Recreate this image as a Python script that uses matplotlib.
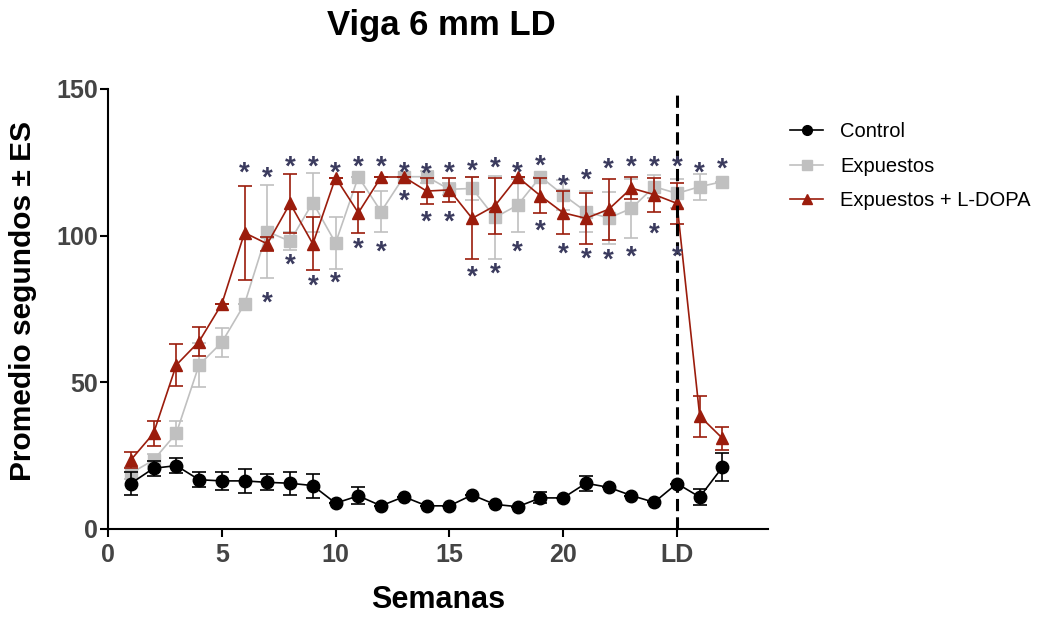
import matplotlib
matplotlib.use("Agg")
import matplotlib.pyplot as plt
from matplotlib.lines import Line2D

weeks = list(range(1, 28))

control = [15.5, 20.7, 21.6, 16.8, 16.4, 16.4, 15.9, 15.6, 14.8, 8.8, 11.3, 7.9, 11.0, 7.9,
           7.9, 11.6, 8.4, 7.6, 10.6, 10.6, 15.6, 14.2, 11.4, 9.1, 15.5, 10.9, 21.1]
control_err = [3.8, 2.5, 2.6, 2.5, 3.0, 4.0, 2.7, 3.9, 4.1, 0, 2.9, 0, 0, 0,
               0, 0, 0, 0, 1.9, 0, 2.6, 0, 0, 0, 0, 2.6, 4.9]

expuestos = [19.0, 23.5, 32.6, 55.9, 63.6, 76.7, 101.4, 98.1, 111.3, 97.5, 120.1, 108.2, 120.1, 120.1,
             115.8, 116.1, 106.2, 110.4, 120.1, 113.9, 108.2, 106.0, 109.3, 116.7, 114.4, 116.7, 118.4]
expuestos_err = [2.0, 2.0, 4.3, 7.4, 5.0, 0, 16.0, 3.0, 10.0, 9.0, 0, 7.0, 0, 2.0,
                 2.0, 4.0, 14.0, 9.0, 0, 5.0, 7.0, 9.0, 10.0, 4.0, 5.0, 4.4, 0]

ldopa = [23.5, 32.6, 55.9, 63.9, 76.7, 101.0, 97.2, 111.0, 97.2, 119.8, 107.8, 120.0, 120.0, 115.2,
         115.6, 105.9, 110.2, 120.0, 113.6, 107.8, 105.9, 109.0, 116.2, 114.0, 111.0, 38.5, 30.9]
ldopa_err = [2.7, 4.3, 7.0, 5.0, 0, 16.0, 2.5, 10.0, 9.0, 0, 7.0, 0, 0, 4.5,
             4.0, 14.0, 9.5, 0, 6.0, 7.3, 8.7, 10.4, 3.8, 5.8, 7.0, 7.0, 4.0]

ast_top_x = list(range(6, 28))
ast_top_y = [123.4, 121.8, 125.6, 125.6, 123.4, 125.6, 125.6, 123.4, 123.1, 123.4, 124.2,
             125.2, 123.4, 125.8, 119.0, 121.2, 124.9, 125.6, 125.6, 125.6, 123.4, 124.9]
ast_bot_x = list(range(7, 26))
ast_bot_y = [79.2, 92.3, 84.9, 86.0, 97.5, 96.7, 114.0, 106.7, 106.7, 88.1, 89.2, 96.7,
             103.6, 96.0, 94.2, 93.8, 94.9, 102.8, 94.9]

xtick_pos = [0, 5, 10, 15, 20, 25]
xtick_labels = ["0", "5", "10", "15", "20", "LD"]
ytick_pos = [0, 50, 100, 150]
ld_week = 25

RED = "#9b1c0c"
GREY = "#c0c0c0"
BLACK = "#000000"
AST = "#3b3b5e"
TICKC = "#444444"

plt.rcParams['font.family'] = ['Liberation Sans', 'DejaVu Sans']

fig = plt.figure(figsize=(10.42, 6.17), dpi=100)
ax = fig.add_axes([108/1042, 1-529/617, 660/1042, 440/617])

common = dict(capsize=5, elinewidth=1.2, capthick=1.2, linewidth=1.2)
ax.errorbar(weeks, expuestos, yerr=expuestos_err, color=GREY, marker='s', markersize=8.5,
            zorder=2, **common)
ax.errorbar(weeks, ldopa, yerr=ldopa_err, color=RED, marker='^', markersize=9,
            zorder=3, **common)
ax.errorbar(weeks, control, yerr=control_err, color=BLACK, marker='o', markersize=9,
            zorder=4, **common)

ax.axvline(ld_week, color='black', linestyle=(0, (4, 2)), linewidth=2.2, zorder=5)

fs_ast = 20
for xs, ys in ((ast_top_x, ast_top_y), (ast_bot_x, ast_bot_y)):
    for xv, yv in zip(xs, ys):
        ax.annotate('*', xy=(xv, yv), xytext=(0, -0.5*fs_ast), textcoords='offset points',
                    ha='center', va='baseline', fontsize=fs_ast, fontweight='bold', color=AST,
                    zorder=6)

ax.set_xlim(0, 29)
ax.set_ylim(0, 150)
ax.set_xticks(xtick_pos)
ax.set_xticklabels(xtick_labels)
ax.set_yticks(ytick_pos)
for s in ('top', 'right'):
    ax.spines[s].set_visible(False)
for s in ('left', 'bottom'):
    ax.spines[s].set_linewidth(1.5)
ax.tick_params(axis='both', direction='out', length=6, width=1.5, labelsize=18,
               labelcolor=TICKC)
ax.tick_params(axis='y', pad=1)
ax.tick_params(axis='x', pad=4)
for lab in ax.get_xticklabels() + ax.get_yticklabels():
    lab.set_fontweight('bold')

ax.set_ylabel("Promedio segundos ± ES", fontsize=21.5, fontweight='bold')
ax.yaxis.label.set_va('center')
ax.yaxis.set_label_coords((23-108)/660, (529-301)/440)
ax.set_xlabel("Semanas", fontsize=22, fontweight='bold')
ax.xaxis.label.set_va('center')
ax.xaxis.set_label_coords(0.5, (529-600)/440)

fig.text(441/1042, 1-25/617, "Viga 6 mm LD", ha='center', va='center', fontsize=25,
         fontweight='bold')

handles = [
    Line2D([], [], color=BLACK, marker='o', markersize=7, linewidth=1.2),
    Line2D([], [], color=GREY, marker='s', markersize=7, linewidth=1.2),
    Line2D([], [], color=RED, marker='^', markersize=7, linewidth=1.2),
]
labels = ["Control", "Expuestos", "Expuestos + L-DOPA"]
fig.legend(handles, labels, loc='upper left', bbox_to_anchor=(790/1042, 1-122/617),
           frameon=False, fontsize=14.5, handlelength=1.65, handletextpad=0.85,
           labelspacing=0.78, borderpad=0, borderaxespad=0)

fig.savefig("out.png", dpi=100)
